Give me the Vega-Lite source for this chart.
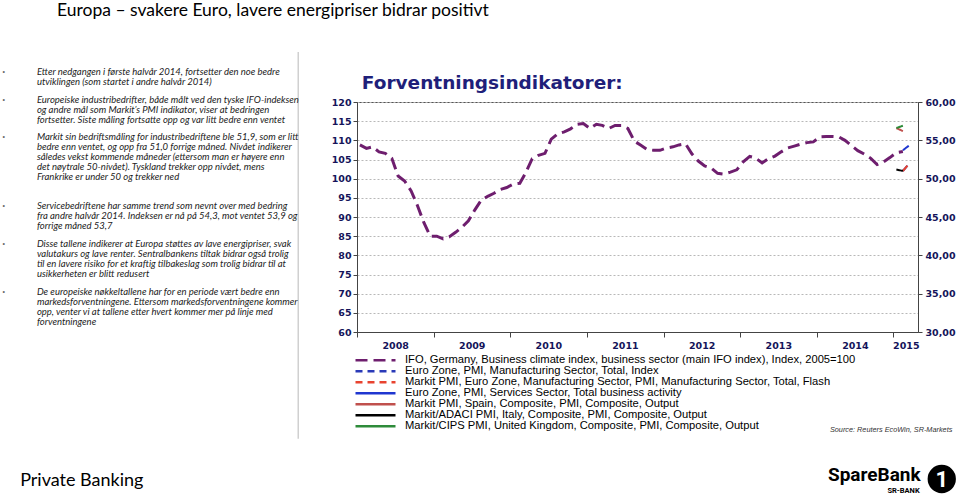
{
  "$schema": "https://vega.github.io/schema/vega-lite/v6.json",
  "background": "white",
  "padding": {"left": 0, "top": 2, "right": 0, "bottom": 0},
  "datasets": {
    "lines": [
      {"line": 0, "first": 1, "text": "Etter nedgangen i første halvår 2014, fortsetter den noe bedre"},
      {"line": 1, "first": 0, "text": "utviklingen (som startet i andre halvår 2014)"},
      {"line": 2.75, "first": 1, "text": "Europeiske industribedrifter, både målt ved den tyske IFO-indeksen"},
      {"line": 3.75, "first": 0, "text": "og andre mål som Markit’s PMI indikator, viser at bedringen"},
      {"line": 4.75, "first": 0, "text": "fortsetter. Siste måling fortsatte opp og var litt bedre enn ventet"},
      {"line": 6.5, "first": 1, "text": "Markit sin bedriftsmåling for industribedriftene ble 51,9, som er litt"},
      {"line": 7.5, "first": 0, "text": "bedre enn ventet, og opp fra 51,0 forrige måned. Nivået indikerer"},
      {"line": 8.5, "first": 0, "text": "således vekst kommende måneder (ettersom man er høyere enn"},
      {"line": 9.5, "first": 0, "text": "det nøytrale 50-nivået). Tyskland trekker opp nivået, mens"},
      {"line": 10.5, "first": 0, "text": "Frankrike er under 50 og trekker ned"},
      {"line": 13.35, "first": 1, "text": "Servicebedriftene har samme trend som nevnt over med bedring"},
      {"line": 14.35, "first": 0, "text": "fra andre halvår 2014. Indeksen er nå på 54,3, mot ventet 53,9 og"},
      {"line": 15.35, "first": 0, "text": "forrige måned 53,7"},
      {"line": 17.2, "first": 1, "text": "Disse tallene indikerer at Europa støttes av lave energipriser, svak"},
      {"line": 18.2, "first": 0, "text": "valutakurs og lave renter. Sentralbankens tiltak bidrar også trolig"},
      {"line": 19.2, "first": 0, "text": "til en lavere risiko for et kraftig tilbakeslag som trolig bidrar til at"},
      {"line": 20.2, "first": 0, "text": "usikkerheten er blitt redusert"},
      {"line": 22, "first": 1, "text": "De europeiske nøkkeltallene har for en periode vært bedre enn"},
      {"line": 23, "first": 0, "text": "markedsforventningene. Ettersom markedsforventningene kommer"},
      {"line": 24, "first": 0, "text": "opp, venter vi at tallene etter hvert kommer mer på linje med"},
      {"line": 25, "first": 0, "text": "forventningene"}
    ],
    "ifo": [
      {"d": "2008-01-15", "v": 108.8, "s": "IFO"}, {"d": "2008-02-15", "v": 107.9, "s": "IFO"}, {"d": "2008-03-15", "v": 108.3, "s": "IFO"},
      {"d": "2008-04-15", "v": 107.0, "s": "IFO"}, {"d": "2008-05-15", "v": 106.6, "s": "IFO"}, {"d": "2008-06-15", "v": 105.3, "s": "IFO"},
      {"d": "2008-07-15", "v": 100.7, "s": "IFO"}, {"d": "2008-08-15", "v": 99.4, "s": "IFO"}, {"d": "2008-09-15", "v": 96.8, "s": "IFO"},
      {"d": "2008-10-15", "v": 93.0, "s": "IFO"}, {"d": "2008-11-15", "v": 88.5, "s": "IFO"}, {"d": "2008-12-15", "v": 85.0, "s": "IFO"},
      {"d": "2009-01-15", "v": 85.0, "s": "IFO"}, {"d": "2009-02-15", "v": 84.3, "s": "IFO"}, {"d": "2009-03-15", "v": 84.8, "s": "IFO"},
      {"d": "2009-04-15", "v": 86.0, "s": "IFO"}, {"d": "2009-05-15", "v": 87.3, "s": "IFO"}, {"d": "2009-06-15", "v": 89.0, "s": "IFO"},
      {"d": "2009-07-15", "v": 91.8, "s": "IFO"}, {"d": "2009-08-15", "v": 94.4, "s": "IFO"}, {"d": "2009-09-15", "v": 95.4, "s": "IFO"},
      {"d": "2009-10-15", "v": 96.2, "s": "IFO"}, {"d": "2009-11-15", "v": 97.2, "s": "IFO"}, {"d": "2009-12-15", "v": 97.7, "s": "IFO"},
      {"d": "2010-01-15", "v": 98.6, "s": "IFO"}, {"d": "2010-02-15", "v": 98.8, "s": "IFO"}, {"d": "2010-03-15", "v": 101.5, "s": "IFO"},
      {"d": "2010-04-15", "v": 105.2, "s": "IFO"}, {"d": "2010-05-15", "v": 106.1, "s": "IFO"}, {"d": "2010-06-15", "v": 106.6, "s": "IFO"},
      {"d": "2010-07-15", "v": 110.3, "s": "IFO"}, {"d": "2010-08-15", "v": 111.7, "s": "IFO"}, {"d": "2010-09-15", "v": 112.2, "s": "IFO"},
      {"d": "2010-10-15", "v": 113.0, "s": "IFO"}, {"d": "2010-11-15", "v": 114.2, "s": "IFO"}, {"d": "2010-12-15", "v": 114.4, "s": "IFO"},
      {"d": "2011-01-15", "v": 113.1, "s": "IFO"}, {"d": "2011-02-15", "v": 114.2, "s": "IFO"}, {"d": "2011-03-15", "v": 113.9, "s": "IFO"},
      {"d": "2011-04-15", "v": 113.1, "s": "IFO"}, {"d": "2011-05-15", "v": 113.9, "s": "IFO"}, {"d": "2011-06-15", "v": 113.9, "s": "IFO"},
      {"d": "2011-07-15", "v": 113.1, "s": "IFO"}, {"d": "2011-08-15", "v": 109.8, "s": "IFO"}, {"d": "2011-09-15", "v": 108.7, "s": "IFO"},
      {"d": "2011-10-15", "v": 107.6, "s": "IFO"}, {"d": "2011-11-15", "v": 107.4, "s": "IFO"}, {"d": "2011-12-15", "v": 107.4, "s": "IFO"},
      {"d": "2012-01-15", "v": 108.0, "s": "IFO"}, {"d": "2012-02-15", "v": 108.3, "s": "IFO"}, {"d": "2012-03-15", "v": 108.8, "s": "IFO"},
      {"d": "2012-04-15", "v": 109.1, "s": "IFO"}, {"d": "2012-05-15", "v": 106.5, "s": "IFO"}, {"d": "2012-06-15", "v": 104.6, "s": "IFO"},
      {"d": "2012-07-15", "v": 103.3, "s": "IFO"}, {"d": "2012-08-15", "v": 102.8, "s": "IFO"}, {"d": "2012-09-15", "v": 101.4, "s": "IFO"},
      {"d": "2012-10-15", "v": 101.2, "s": "IFO"}, {"d": "2012-11-15", "v": 101.7, "s": "IFO"}, {"d": "2012-12-15", "v": 102.3, "s": "IFO"},
      {"d": "2013-01-15", "v": 104.4, "s": "IFO"}, {"d": "2013-02-15", "v": 105.8, "s": "IFO"}, {"d": "2013-03-15", "v": 105.4, "s": "IFO"},
      {"d": "2013-04-15", "v": 104.1, "s": "IFO"}, {"d": "2013-05-15", "v": 105.2, "s": "IFO"}, {"d": "2013-06-15", "v": 105.9, "s": "IFO"},
      {"d": "2013-07-15", "v": 107.0, "s": "IFO"}, {"d": "2013-08-15", "v": 108.0, "s": "IFO"}, {"d": "2013-09-15", "v": 108.5, "s": "IFO"},
      {"d": "2013-10-15", "v": 109.0, "s": "IFO"}, {"d": "2013-11-15", "v": 109.4, "s": "IFO"}, {"d": "2013-12-15", "v": 109.6, "s": "IFO"},
      {"d": "2014-01-15", "v": 110.9, "s": "IFO"}, {"d": "2014-02-15", "v": 111.0, "s": "IFO"}, {"d": "2014-03-15", "v": 111.0, "s": "IFO"},
      {"d": "2014-04-15", "v": 110.9, "s": "IFO"}, {"d": "2014-05-15", "v": 110.0, "s": "IFO"}, {"d": "2014-06-15", "v": 108.6, "s": "IFO"},
      {"d": "2014-07-15", "v": 107.3, "s": "IFO"}, {"d": "2014-08-15", "v": 106.4, "s": "IFO"}, {"d": "2014-09-15", "v": 105.3, "s": "IFO"},
      {"d": "2014-10-15", "v": 103.7, "s": "IFO"}, {"d": "2014-11-15", "v": 104.4, "s": "IFO"}, {"d": "2014-12-15", "v": 105.5, "s": "IFO"},
      {"d": "2015-01-15", "v": 106.8, "s": "IFO"}, {"d": "2015-02-15", "v": 107.1, "s": "IFO"}
    ],
    "pmi": [
      {"d": "2015-02-15", "v": 51.0, "s": "EZM"}, {"d": "2015-03-15", "v": 51.9, "s": "EZM"},
      {"d": "2015-02-15", "v": 51.0, "s": "FLASH"}, {"d": "2015-03-15", "v": 51.9, "s": "FLASH"},
      {"d": "2015-02-15", "v": 53.7, "s": "EZS"}, {"d": "2015-03-15", "v": 54.3, "s": "EZS"},
      {"d": "2015-01-15", "v": 56.6, "s": "ESP"}, {"d": "2015-02-15", "v": 56.2, "s": "ESP"},
      {"d": "2015-01-15", "v": 51.2, "s": "ITA"}, {"d": "2015-02-15", "v": 51.0, "s": "ITA"},
      {"d": "2015-01-15", "v": 56.6, "s": "UK"}, {"d": "2015-02-15", "v": 56.9, "s": "UK"}
    ]
  },
  "bounds": "flush",
  "spacing": 356,
  "vconcat": [
    {
      "bounds": "flush",
      "spacing": 57,
      "hconcat": [
        {
          "width": 300,
          "height": 230,
          "view": {"stroke": null},
          "layer": [
            {
              "data": {"values": [{"part": "divider"}]},
              "mark": {"type": "rule", "color": "#c4c4c4", "strokeWidth": 1.2},
              "encoding": {
                "x": {"datum": 99.4, "type": "quantitative", "scale": {"domain": [0, 100]}, "axis": null},
                "y": {"datum": -2.0, "type": "quantitative", "scale": {"domain": [0, 25], "range": [-30, 230.5]}, "axis": null},
                "y2": {"datum": 36.6}
              }
            },
            {
              "data": {"name": "lines"},
              "mark": {"type": "text", "align": "left", "baseline": "middle", "font": "Lato", "fontStyle": "italic", "fontSize": 9.5, "color": "#222222"},
              "encoding": {
                "x": {"datum": 12.3, "type": "quantitative"},
                "y": {"field": "line", "type": "quantitative"},
                "text": {"field": "text"}
              }
            },
            {
              "data": {"name": "lines"},
              "transform": [{"filter": "datum.first == 1"}],
              "mark": {"type": "text", "align": "center", "baseline": "middle", "fontSize": 7, "color": "#666666", "text": "•"},
              "encoding": {
                "x": {"datum": 1.2, "type": "quantitative"},
                "y": {"field": "line", "type": "quantitative"}
              }
            },
            {
              "data": {"values": [{"title": "Europa – svakere Euro, lavere energipriser bidrar positivt"}]},
              "mark": {"type": "text", "align": "left", "baseline": "middle", "font": "Lato", "fontSize": 17.5, "color": "#000000"},
              "encoding": {
                "x": {"datum": 19, "type": "quantitative"},
                "y": {"datum": -6.05, "type": "quantitative"},
                "text": {"field": "title"}
              }
            }
          ]
        },
        {
          "width": 561,
          "height": 230,
          "view": {"stroke": "#555555", "strokeWidth": 1},
          "layer": [
            {
              "data": {"name": "ifo"},
              "mark": {"type": "line", "strokeWidth": 3, "strokeCap": "butt"},
              "encoding": {
                "x": {"field": "d", "type": "temporal",
                  "scale": {"domain": [{"year": 2008, "month": 1, "date": 1}, {"year": 2015, "month": 4, "date": 28}]},
                  "axis": {"orient": "bottom", "title": null, "labels": false, "grid": false, "tickSize": 5, "tickColor": "#444444", "domainColor": "#444444",
                    "values": [{"year": 2008, "month": 1, "date": 1}, {"year": 2009, "month": 1, "date": 1}, {"year": 2010, "month": 1, "date": 1}, {"year": 2011, "month": 1, "date": 1}, {"year": 2012, "month": 1, "date": 1}, {"year": 2013, "month": 1, "date": 1}, {"year": 2014, "month": 1, "date": 1}, {"year": 2015, "month": 1, "date": 1}]}},
                "y": {"field": "v", "type": "quantitative", "scale": {"domain": [60, 120]},
                  "axis": {"orient": "left", "title": null, "values": [60, 65, 70, 75, 80, 85, 90, 95, 100, 105, 110, 115, 120], "format": "d",
                    "labelFont": "DejaVu Sans", "labelFontWeight": "bold", "labelFontSize": 9.5, "labelColor": "#14145a", "labelPadding": 2,
                    "tickSize": 4, "tickColor": "#444444", "domainColor": "#444444",
                    "grid": true, "gridDash": [2, 2], "gridColor": "#b8b8b8"}},
                "color": {"field": "s", "type": "nominal",
                  "scale": {"domain": ["IFO", "EZM", "FLASH", "EZS", "ESP", "ITA", "UK"], "range": ["#6e1e6e", "#2a3ab8", "#e8432f", "#1f36d0", "#c0504d", "#000000", "#2e8b3a"]},
                  "legend": {"orient": "none", "legendX": 354, "legendY": 253, "direction": "vertical", "title": null,
                    "symbolType": "stroke", "symbolSize": 1600, "symbolStrokeWidth": 2.5, "clipHeight": 10.67, "rowPadding": -1.6, "padding": 0,
                    "labelFont": "Liberation Sans", "labelFontSize": 11.2, "labelColor": "#000000", "labelLimit": 700, "labelOffset": 8,
                    "labelExpr": "datum.label == 'IFO' ? 'IFO, Germany, Business climate index, business sector (main IFO index), Index, 2005=100' : datum.label == 'EZM' ? 'Euro Zone, PMI, Manufacturing Sector, Total, Index' : datum.label == 'FLASH' ? 'Markit PMI, Euro Zone, Manufacturing Sector, PMI, Manufacturing Sector, Total, Flash' : datum.label == 'EZS' ? 'Euro Zone, PMI, Services Sector, Total business activity' : datum.label == 'ESP' ? 'Markit PMI, Spain, Composite, PMI, Composite, Output' : datum.label == 'ITA' ? 'Markit/ADACI PMI, Italy, Composite, PMI, Composite, Output' : 'Markit/CIPS PMI, United Kingdom, Composite, PMI, Composite, Output'"}},
                "strokeDash": {"field": "s", "type": "nominal",
                  "scale": {"domain": ["IFO", "EZM", "FLASH", "EZS", "ESP", "ITA", "UK"], "range": [[12, 6], [7, 5], [7, 5], [1, 0], [1, 0], [1, 0], [1, 0]]}}
              }
            },
            {
              "data": {"name": "pmi"},
              "mark": {"type": "line", "strokeWidth": 2},
              "encoding": {
                "x": {"field": "d", "type": "temporal",
                  "axis": {"orient": "bottom", "title": null, "ticks": false, "tickSize": 0, "domain": false, "grid": false, "format": "%Y",
                    "labelFont": "DejaVu Sans", "labelFontWeight": "bold", "labelFontSize": 9.5, "labelColor": "#14145a", "labelPadding": 8,
                    "values": [{"year": 2008, "month": 7, "date": 1}, {"year": 2009, "month": 7, "date": 1}, {"year": 2010, "month": 7, "date": 1}, {"year": 2011, "month": 7, "date": 1}, {"year": 2012, "month": 7, "date": 1}, {"year": 2013, "month": 7, "date": 1}, {"year": 2014, "month": 7, "date": 1}, {"year": 2015, "month": 3, "date": 1}]}},
                "y": {"field": "v", "type": "quantitative", "scale": {"domain": [30, 60]},
                  "axis": {"orient": "right", "title": null, "values": [30, 35, 40, 45, 50, 55, 60],
                    "labelExpr": "replace(format(datum.value, '.2f'), '.', ',')",
                    "labelFont": "DejaVu Sans", "labelFontWeight": "bold", "labelFontSize": 9.5, "labelColor": "#14145a", "labelPadding": 3,
                    "tickSize": 4, "tickColor": "#444444", "domainColor": "#444444", "grid": false}},
                "color": {"field": "s", "type": "nominal"},
                "strokeDash": {"field": "s", "type": "nominal"}
              }
            },
            {
              "data": {"values": [{"label": "Forventningsindikatorer:"}]},
              "mark": {"type": "text", "align": "left", "baseline": "alphabetic", "font": "DejaVu Sans", "fontWeight": "bold", "fontSize": 18.5, "color": "#1f1f7a"},
              "encoding": {
                "x": {"datum": {"year": 2008, "month": 1, "date": 24}, "type": "temporal", "axis": null},
                "y": {"datum": 123.5, "type": "quantitative", "scale": {"domain": [60, 120]}, "axis": null},
                "text": {"field": "label"}
              }
            }
          ],
          "resolve": {"scale": {"y": "independent"}, "axis": {"x": "independent"}}
        }
      ]
    },
    {
      "width": 960,
      "height": 40,
      "view": {"stroke": null},
      "layer": [
        {
          "data": {"values": [{"label": "Private Banking"}]},
          "mark": {"type": "text", "align": "left", "baseline": "middle", "font": "Lato", "fontSize": 18, "color": "#000000"},
          "encoding": {
            "x": {"datum": 2.1, "type": "quantitative", "scale": {"domain": [0, 100]}, "axis": null},
            "y": {"datum": 23, "type": "quantitative", "scale": {"domain": [0, 40], "range": [0, 40]}, "axis": null},
            "text": {"field": "label"}
          }
        },
        {
          "data": {"values": [{"label": "Source: Reuters EcoWin, SR-Markets"}]},
          "mark": {"type": "text", "align": "right", "baseline": "middle", "font": "Liberation Sans", "fontStyle": "italic", "fontSize": 7.3, "color": "#333333"},
          "encoding": {
            "x": {"datum": 99.2, "type": "quantitative"},
            "y": {"datum": -28, "type": "quantitative"},
            "text": {"field": "label"}
          }
        },
        {
          "data": {"values": [{"label": "SpareBank"}]},
          "mark": {"type": "text", "align": "right", "baseline": "middle", "font": "Roboto", "fontWeight": "bold", "fontSize": 19, "color": "#000000"},
          "encoding": {
            "x": {"datum": 95.9, "type": "quantitative"},
            "y": {"datum": 17, "type": "quantitative"},
            "text": {"field": "label"}
          }
        },
        {
          "data": {"values": [{"label": "SR-BANK"}]},
          "mark": {"type": "text", "align": "right", "baseline": "middle", "font": "Roboto", "fontWeight": "bold", "fontSize": 7.5, "color": "#000000"},
          "encoding": {
            "x": {"datum": 95.8, "type": "quantitative"},
            "y": {"datum": 33, "type": "quantitative"},
            "text": {"field": "label"}
          }
        },
        {
          "data": {"values": [{"label": "1"}]},
          "mark": {"type": "point", "shape": "circle", "filled": true, "size": 800, "color": "#000000", "opacity": 1},
          "encoding": {
            "x": {"datum": 98.1, "type": "quantitative"},
            "y": {"datum": 21, "type": "quantitative"}
          }
        },
        {
          "data": {"values": [{"label": "1"}]},
          "mark": {"type": "text", "align": "center", "baseline": "middle", "font": "Roboto", "fontWeight": "bold", "fontSize": 22, "color": "#ffffff"},
          "encoding": {
            "x": {"datum": 98.1, "type": "quantitative"},
            "y": {"datum": 22, "type": "quantitative"},
            "text": {"field": "label"}
          }
        }
      ]
    }
  ]
}
